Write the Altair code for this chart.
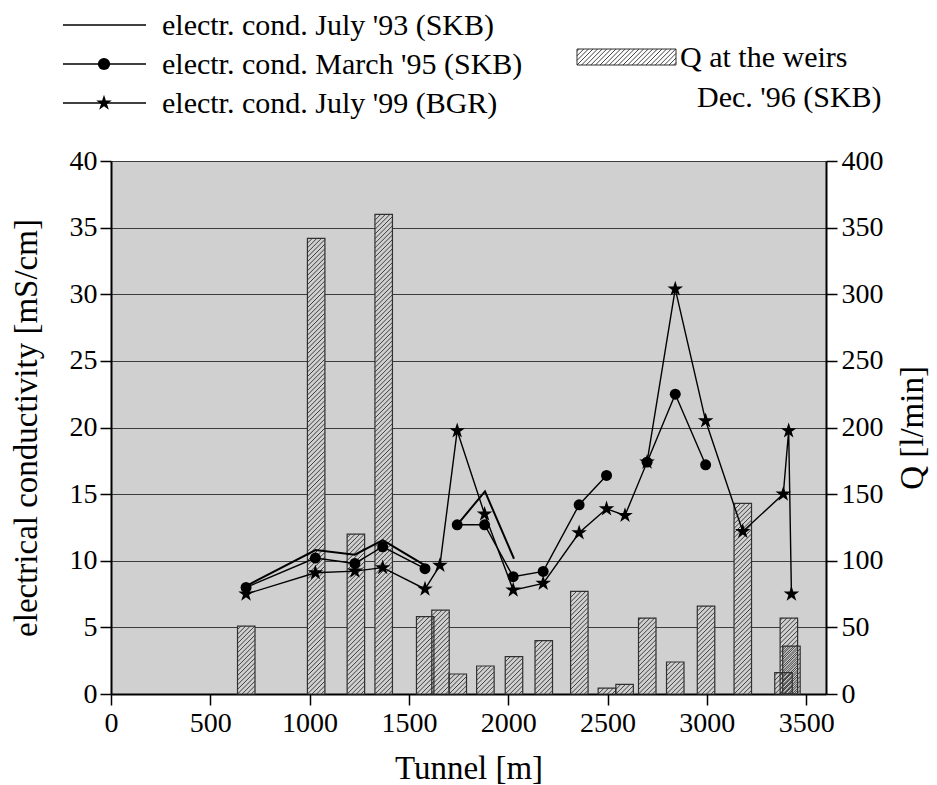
import altair as alt
import pandas as pd

# ---------------- data ----------------
# Q at the weirs, Dec. '96 (SKB)  [l/min]
bar_pos = [681, 1033, 1233, 1373, 1582, 1659, 1746, 1885, 2029, 2179,
           2358, 2497, 2586, 2700, 2841, 2996, 3181, 3386, 3413, 3426]
bar_q = [51, 342, 120, 360, 58, 63, 15, 21, 28, 40,
         77, 4.4, 7.2, 57, 24, 66, 143, 16, 57, 36]

# electr. cond. July '93 (SKB), two separate sections
jul93_pos = [680, 1030, 1228, 1368, 1581, 1743, 1883, 2029]
jul93_val = [8.1, 10.8, 10.45, 11.55, 9.65, 12.7, 15.2, 10.15]
jul93_seg = [1, 1, 1, 1, 1, 2, 2, 2]

# electr. cond. March '95 (SKB)
mar95_pos = [680, 1029, 1228, 1368, 1581, 1743, 1881, 2025, 2176, 2357, 2495, 2699, 2841, 2994]
mar95_val = [8.0, 10.2, 9.8, 11.05, 9.4, 12.7, 12.7, 8.8, 9.2, 14.2, 16.4, 17.4, 22.5, 17.2]
mar95_seg = [1, 1, 1, 1, 1, 2, 2, 2, 2, 2, 2, 3, 3, 3]

# electr. cond. July '99 (BGR)
jul99_pos = [680, 1029, 1228, 1368, 1581, 1656, 1743, 1881, 2025, 2176, 2357, 2495, 2588,
             2699, 2841, 2994, 3181, 3385, 3412, 3426]
jul99_val = [7.5, 9.1, 9.22, 9.48, 7.88, 9.65, 19.75, 13.5, 7.8, 8.3, 12.1, 13.9, 13.4,
             17.4, 30.4, 20.5, 12.2, 15.0, 19.75, 7.5]

x_ticks = [0, 500, 1000, 1500, 2000, 2500, 3000, 3500]
yl_ticks = [0, 5, 10, 15, 20, 25, 30, 35, 40]
yr_ticks = [0, 50, 100, 150, 200, 250, 300, 350, 400]

legend_labels = ["electr. cond. July '93 (SKB)", "electr. cond. March '95 (SKB)",
                 "electr. cond. July '99 (BGR)"]
bar_legend_labels = ["Q at the weirs", "Dec. '96 (SKB)"]

# ---------------- layout ----------------
W, H = 715, 533
XMAX, QMAX, CMAX = 3600, 400, 40
BAR_W = 88          # bar width in metres
HATCH = 4.6         # hatch spacing in px
FONT = "Liberation Serif"
BG = "#d0d0d0"
TICK_FS = 28
TITLE_FS = 33
LEG_FS = 30

bars = pd.DataFrame({"pos": bar_pos, "q": bar_q})
bars["x0"] = bars["pos"] - BAR_W / 2
bars["x1"] = bars["pos"] + BAR_W / 2

lines = pd.concat([
    pd.DataFrame({"pos": jul93_pos, "val": jul93_val, "seg": [f"a{s}" for s in jul93_seg], "series": "jul93"}),
    pd.DataFrame({"pos": mar95_pos, "val": mar95_val, "seg": [f"b{s}" for s in mar95_seg], "series": "mar95"}),
    pd.DataFrame({"pos": jul99_pos, "val": jul99_val, "seg": "c1", "series": "jul99"}),
], ignore_index=True)

one = pd.DataFrame({"a": [0]})

xs = alt.Scale(domain=[0, XMAX], nice=False, zero=False)
qs = alt.Scale(domain=[0, QMAX], nice=False)
cs = alt.Scale(domain=[0, CMAX], nice=False)

STAR = ("M0,-1L0.225,-0.309L0.951,-0.309L0.363,0.118L0.588,0.809L0,0.382"
        "L-0.588,0.809L-0.363,0.118L-0.951,-0.309L-0.225,-0.309Z")

common_axis = dict(domainColor="black", domainWidth=2, tickColor="black", tickWidth=1.5,
                   tickSize=11, labelFont=FONT, labelFontSize=TICK_FS, labelColor="black",
                   titleFont=FONT, titleFontSize=TITLE_FS, titleFontWeight="normal",
                   titleColor="black", format="d")

xaxis = alt.Axis(values=x_ticks, title="Tunnel [m]", grid=False, labelPadding=4,
                 labelFlush=False, titleX=W / 2, titleY=84, titleAlign="center",
                 titleBaseline="alphabetic", **common_axis)
qaxis = alt.Axis(orient="right", values=yr_ticks, title="Q [l/min]", grid=False,
                 labelPadding=4, titleAngle=270, titleX=86, titleY=H / 2,
                 titleAlign="center", titleBaseline="middle", **common_axis)
caxis = alt.Axis(orient="left", values=yl_ticks, title="electrical conductivity [mS/cm]",
                 grid=True, gridColor="#3c3c3c", gridWidth=1, labelPadding=3,
                 titleAngle=270, titleX=-85, titleY=H / 2, titleAlign="center",
                 titleBaseline="middle", **common_axis)

base_bar = alt.Chart(bars)

bar_fill = base_bar.mark_rect(fill=BG, strokeWidth=0).encode(
    x=alt.X("x0:Q", scale=xs, axis=xaxis),
    x2="x1:Q",
    y=alt.Y("q:Q", scale=qs, axis=qaxis),
    y2=alt.datum(0),
)

pxm = W / XMAX
pyq = H / QMAX
wpx = BAR_W * pxm
hatch = base_bar.transform_calculate(
    k="sequence(0, 140)"
).transform_flatten(["k"]).transform_calculate(
    c=f"(datum.k - 5) * {HATCH}",
    h=f"datum.q * {pyq}",
).transform_filter(
    f"datum.c > -{wpx} && datum.c < datum.h"
).transform_calculate(
    xs0="max(0, -datum.c)",
    xs1=f"min({wpx}, datum.h - datum.c)",
).transform_calculate(
    hx0=f"datum.x0 + datum.xs0 / {pxm}",
    hx1=f"datum.x0 + datum.xs1 / {pxm}",
    hy0=f"(datum.xs0 + datum.c) / {pyq}",
    hy1=f"(datum.xs1 + datum.c) / {pyq}",
).mark_rule(color="#222222", strokeWidth=0.85).encode(
    x=alt.X("hx0:Q", scale=xs, axis=xaxis),
    x2="hx1:Q",
    y=alt.Y("hy0:Q", scale=qs, axis=qaxis),
    y2="hy1:Q",
)

bar_outline = base_bar.mark_rect(fillOpacity=0, stroke="#303030", strokeWidth=1.2).encode(
    x=alt.X("x0:Q", scale=xs, axis=xaxis),
    x2="x1:Q",
    y=alt.Y("q:Q", scale=qs, axis=qaxis),
    y2=alt.datum(0),
)

bar_layer = alt.layer(bar_fill, hatch, bar_outline)

base_line = alt.Chart(lines)
line_other = base_line.transform_filter("datum.series != 'jul93'").mark_line(
    color="black", strokeWidth=1.4).encode(
    x=alt.X("pos:Q", scale=xs, axis=xaxis),
    y=alt.Y("val:Q", scale=cs, axis=caxis),
    detail="seg:N",
    order="pos:Q",
)
line_93 = base_line.transform_filter("datum.series == 'jul93'").mark_line(
    color="black", strokeWidth=2).encode(
    x=alt.X("pos:Q", scale=xs, axis=xaxis),
    y=alt.Y("val:Q", scale=cs, axis=caxis),
    detail="seg:N",
    order="pos:Q",
)
circles = base_line.transform_filter("datum.series == 'mar95'").mark_point(
    shape="circle", filled=True, color="black", size=120, opacity=1).encode(
    x=alt.X("pos:Q", scale=xs, axis=xaxis),
    y=alt.Y("val:Q", scale=cs, axis=caxis),
)
stars = base_line.transform_filter("datum.series == 'jul99'").mark_point(
    shape=STAR, filled=True, color="black", size=270, opacity=1).encode(
    x=alt.X("pos:Q", scale=xs, axis=xaxis),
    y=alt.Y("val:Q", scale=cs, axis=caxis),
)

line_layer = alt.layer(line_other, line_93, circles, stars)

# ---------------- legend (drawn above the plot, in pixels) ----------------
leg_rows = [-136, -97, -58]
legend_layers = []
for yy, tx in zip(leg_rows, legend_labels):
    legend_layers.append(alt.Chart(one).mark_rule(color="black", strokeWidth=1.6).encode(
        x=alt.value(-48), x2=alt.value(35), y=alt.value(yy)))
    legend_layers.append(alt.Chart(one).mark_text(
        align="left", baseline="middle", font=FONT, fontSize=LEG_FS, color="black").encode(
        x=alt.value(51), y=alt.value(yy + 1), text=alt.value(tx)))
legend_layers.append(alt.Chart(one).mark_point(
    shape="circle", filled=True, color="black", size=150, opacity=1).encode(
    x=alt.value(-7), y=alt.value(leg_rows[1])))
legend_layers.append(alt.Chart(one).mark_point(
    shape=STAR, filled=True, color="black", size=270, opacity=1).encode(
    x=alt.value(-7), y=alt.value(leg_rows[2])))

BX0, BX1, BY0, BY1 = 466, 565, -112, -96
legend_layers.append(alt.Chart(one).mark_rect(fill="white", stroke="#303030", strokeWidth=1).encode(
    x=alt.value(BX0), x2=alt.value(BX1), y=alt.value(BY0), y2=alt.value(BY1)))
bh = BY1 - BY0
bw = BX1 - BX0
box_hatch = alt.Chart(one).transform_calculate(
    k="sequence(0, 40)"
).transform_flatten(["k"]).transform_calculate(
    c=f"(datum.k - 5) * {HATCH}"
).transform_filter(
    f"datum.c > -{bh} && datum.c < {bw}"
).transform_calculate(
    ys0="max(0, -datum.c)",
    ys1=f"min({bh}, {bw} - datum.c)",
).transform_calculate(
    px0=f"{BX0} + datum.c + datum.ys0",
    px1=f"{BX0} + datum.c + datum.ys1",
    py0=f"{BY1} - datum.ys0",
    py1=f"{BY1} - datum.ys1",
).mark_rule(color="#222222", strokeWidth=0.85).encode(
    x=alt.X("px0:Q", scale=None), x2="px1:Q",
    y=alt.Y("py0:Q", scale=None), y2="py1:Q",
)
legend_layers.append(box_hatch)
legend_layers.append(alt.Chart(one).mark_text(
    align="left", baseline="middle", font=FONT, fontSize=LEG_FS, color="black").encode(
    x=alt.value(569), y=alt.value(-103), text=alt.value(bar_legend_labels[0])))
legend_layers.append(alt.Chart(one).mark_text(
    align="left", baseline="middle", font=FONT, fontSize=LEG_FS, color="black").encode(
    x=alt.value(586), y=alt.value(-63), text=alt.value(bar_legend_labels[1])))

chart = alt.layer(bar_layer, line_layer, *legend_layers).resolve_scale(
    y="independent"
).properties(
    width=W, height=H,
    autosize=alt.AutoSizeParams(type="none"),
    padding={"left": 103, "top": 153, "right": 103, "bottom": 90},
).configure_view(
    fill=BG, stroke=None
)

chart.save("out.html", embed_options={"renderer": "svg", "actions": False})
